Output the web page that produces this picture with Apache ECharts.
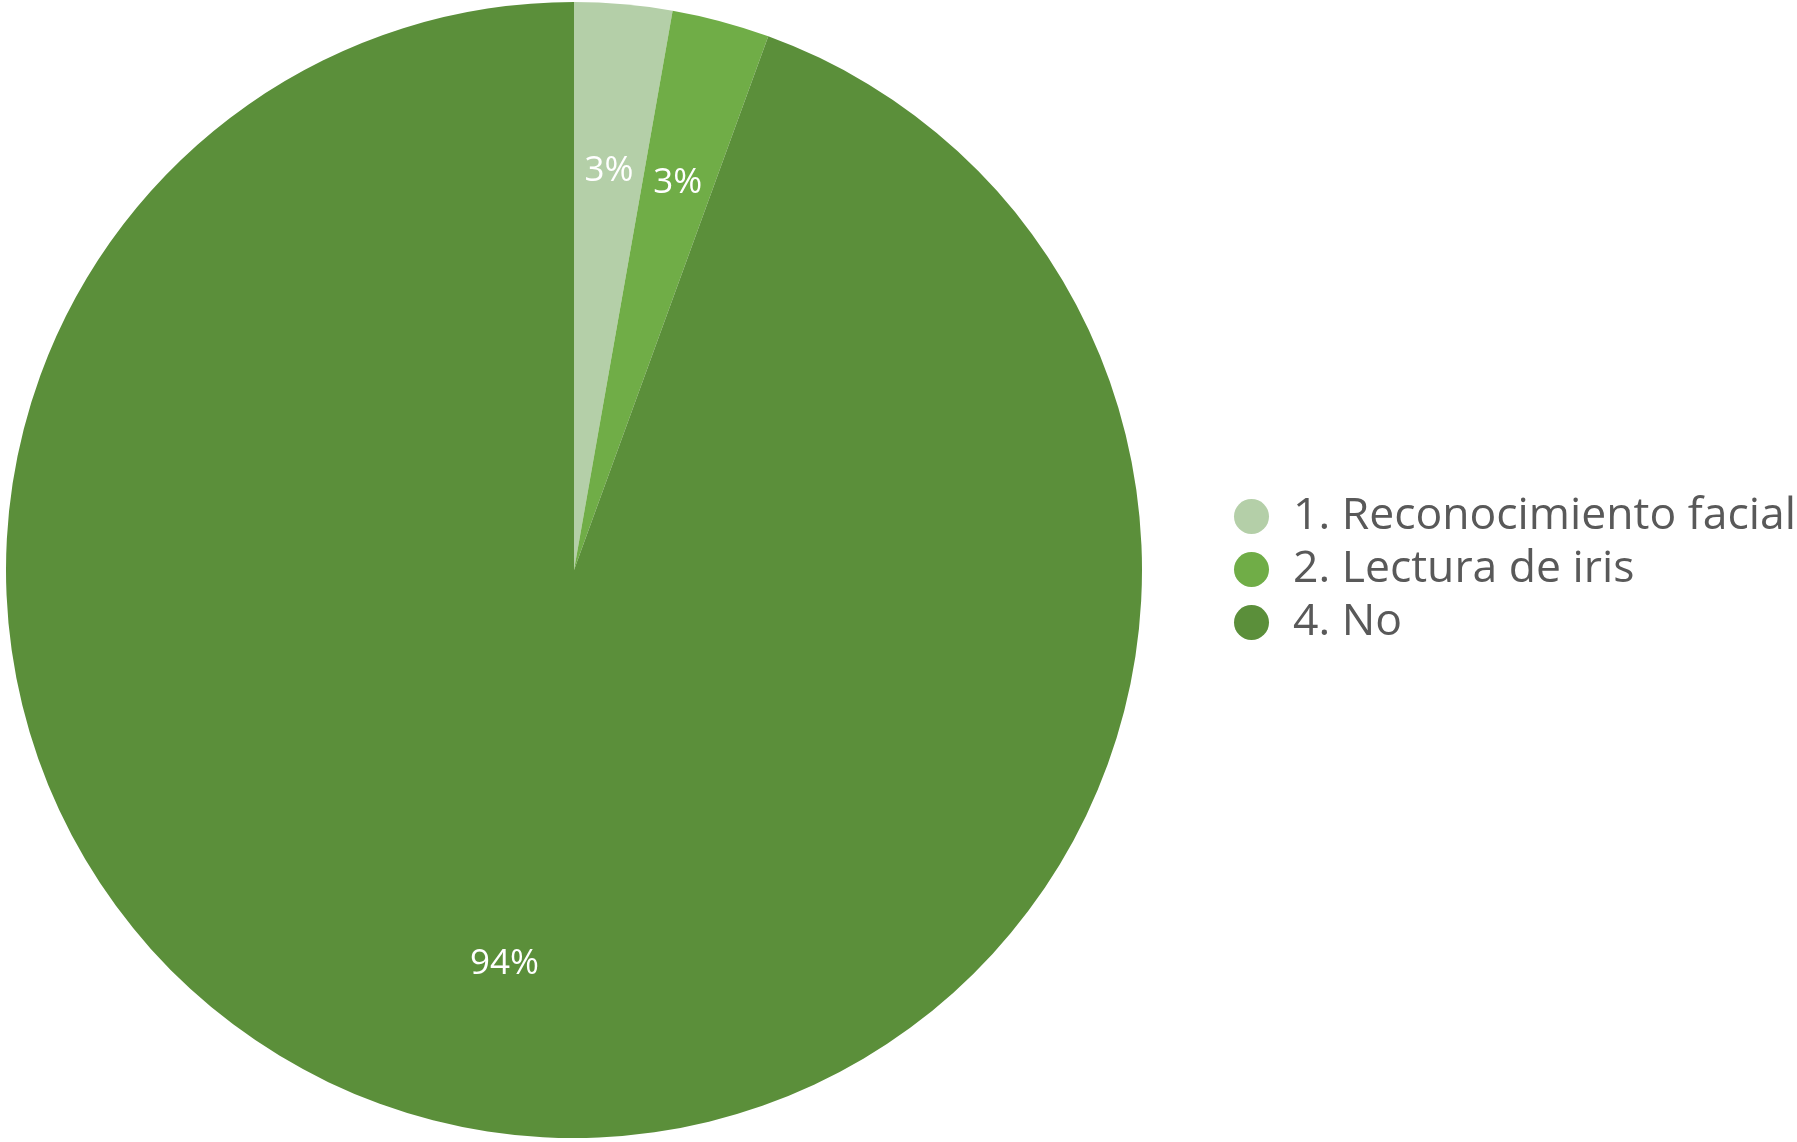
<!DOCTYPE html>
<html>
<head>
<meta charset="utf-8">
<script src="https://cdn.jsdelivr.net/npm/echarts@6/dist/echarts.min.js"></script>
<style>
  html, body { margin: 0; padding: 0; background: #fff; }
  #chart { width: 1797px; height: 1142px; }
</style>
</head>
<body>
<div id="chart"></div>
<script>
// Survey answers and their response counts
const categories = ['1. Reconocimiento facial', '2. Lectura de iris', '4. No'];
const counts = [1, 1, 34];
const colors = ['#B4CFA8', '#70AD47', '#5B8F3A'];

const pieData = categories.map((name, i) => ({
  name: name,
  value: counts[i],
  itemStyle: { color: colors[i] }
}));

const FONT = '"Open Sans", "Noto Sans", sans-serif';
const CENTER = [574, 570];
const R = 568;

const chart = echarts.init(document.getElementById('chart'));
chart.setOption({
  backgroundColor: '#ffffff',
  animation: false,
  legend: {
    orient: 'vertical',
    left: 1229,
    top: 489,
    icon: 'circle',
    itemWidth: 35,
    itemHeight: 37,
    itemGap: 8,
    textStyle: {
      color: '#595959',
      fontSize: 44.5,
      lineHeight: 44,
      fontFamily: FONT,
      padding: [0, 0, 0, 19]
    },
    data: categories
  },
  series: [
    {
      // filled slices
      type: 'pie',
      center: CENTER,
      radius: [0, R],
      startAngle: 90,
      clockwise: true,
      silent: true,
      label: { show: false },
      labelLine: { show: false },
      data: pieData
    },
    {
      // transparent ring that carries the percentage labels further out
      type: 'pie',
      center: CENTER,
      radius: [R * 0.4, R],
      startAngle: 90,
      clockwise: true,
      silent: true,
      percentPrecision: 0,
      itemStyle: { color: 'rgba(0,0,0,0)' },
      label: {
        show: true,
        position: 'inside',
        formatter: '{d}%',
        color: '#ffffff',
        fontSize: 35,
        fontFamily: FONT
      },
      labelLine: { show: false },
      data: categories.map((name, i) => ({ name: name, value: counts[i], itemStyle: { color: 'rgba(0,0,0,0)' } }))
    }
  ]
});
</script>
</body>
</html>
